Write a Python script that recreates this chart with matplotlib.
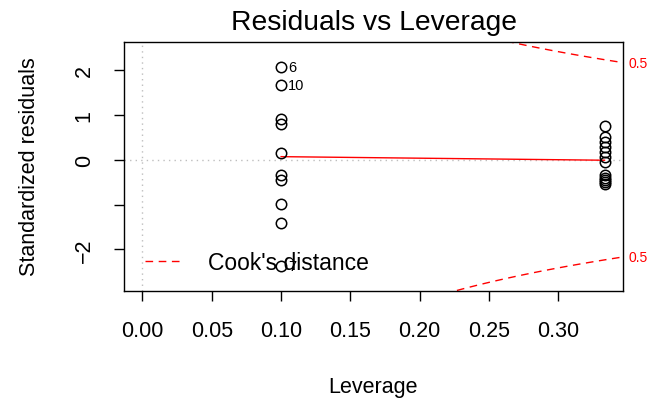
import numpy as np
import matplotlib
matplotlib.use("Agg")
import matplotlib.pyplot as plt
import matplotlib.transforms as mtransforms

plt.rcParams['font.family'] = ['Liberation Sans', 'DejaVu Sans']

# leverage groups and standardized residuals
lev_low = 0.1
res_low = [2.07, 1.68, 0.92, 0.80, 0.16, -0.33, -0.46, -0.98, -1.42, -2.37]
lev_high = 1 / 3
res_high = [0.75, 0.51, 0.40, 0.29, 0.17, 0.06, -0.05, -0.34, -0.40, -0.45, -0.50, -0.53]

# labelled points (the three largest |residuals|)
id_lev = [0.1, 0.1, 0.1]
id_res = [2.07, 1.68, -2.37]
id_text = ["6", "10", "7"]

# smoother
smooth_x = [0.1, 1 / 3]
smooth_y = [0.07, -0.01]

n_par = 5
cook_levels = [0.5, 1.0]

lev = [lev_low] * len(res_low) + [lev_high] * len(res_high)
res = res_low + res_high

fig = plt.figure(figsize=(6.61, 4.02), dpi=100)
ax = fig.add_axes([124 / 661, 1 - 292 / 402, 499 / 661, 249 / 402])

# R-like limits
xmax = max(lev)
xlim = (0 - 0.04 * xmax, xmax + 0.04 * xmax)
a, b = min(res), max(res)
ea, eb = a - 0.08 * (b - a), b + 0.08 * (b - a)
ylim = (ea - 0.04 * (eb - ea), eb + 0.04 * (eb - ea))
ax.set_xlim(xlim)
ax.set_ylim(ylim)

ax.axhline(0, color="#BEBEBE", lw=1, ls=(0, (1, 3)))
ax.axvline(0, color="#BEBEBE", lw=1, ls=(0, (1, 3)))

ax.plot(lev, res, "o", mfc="none", mec="black", ms=7.5, mew=1.1, zorder=3)
ax.plot(smooth_x, smooth_y, color="red", lw=1)

for x, y, t in zip(id_lev, id_res, id_text):
    ax.annotate(t, (x, y), xytext=(5, 0), textcoords="offset points",
                fontsize=10.5, va="center", ha="left")

# Cook's distance contours
dash = (0, (5.5, 4))
hh = np.linspace(0.1 / 30, xlim[1], 101)
for lvl in cook_levels:
    cl = np.sqrt(lvl * n_par * (1 - hh) / hh)
    ax.plot(hh, cl, color="red", lw=1, ls=dash)
    ax.plot(hh, -cl, color="red", lw=1, ls=dash)

trans = mtransforms.blended_transform_factory(ax.transAxes, ax.transData)
for lvl in cook_levels:
    aty = np.sqrt(lvl * n_par * (1 - xlim[1]) / xlim[1])
    for yy in (aty, -aty):
        if ylim[0] < yy < ylim[1]:
            ax.text(1.012, yy, str(lvl), transform=trans, color="red",
                    fontsize=10, va="center", ha="left")

ax.legend(handles=[plt.Line2D([], [], color="red", lw=1, ls=dash)],
          labels=["Cook's distance"], loc="center left",
          bbox_to_anchor=(21 / 499, 28 / 249), frameon=False,
          borderaxespad=0, borderpad=0, handlelength=1.55, handletextpad=1.2,
          fontsize=16.5)

ax.set_xticks([0.0, 0.05, 0.1, 0.15, 0.2, 0.25, 0.3])
ax.set_xticklabels(["0.00", "0.05", "0.10", "0.15", "0.20", "0.25", "0.30"])
ax.set_yticks([-2, -1, 0, 1, 2])
ax.set_yticklabels(["\u22122", "", "0", "1", "2"])
ax.tick_params(direction="out", length=7, width=1, labelsize=15.5, pad=14)
for lab in ax.get_yticklabels():
    lab.set_rotation(90)
    lab.set_va("center")

for s in ax.spines.values():
    s.set_linewidth(1)

ax.set_title("Residuals vs Leverage", fontsize=20.3, pad=9)
fig.text(373.5 / 661, 1 - 388 / 402, "Leverage", ha="center", va="center", fontsize=15.5)
fig.text(30 / 661, 1 - 167 / 402, "Standardized residuals", ha="center", va="center",
         rotation=90, fontsize=15.5)

fig.savefig("out.png", dpi=100)
